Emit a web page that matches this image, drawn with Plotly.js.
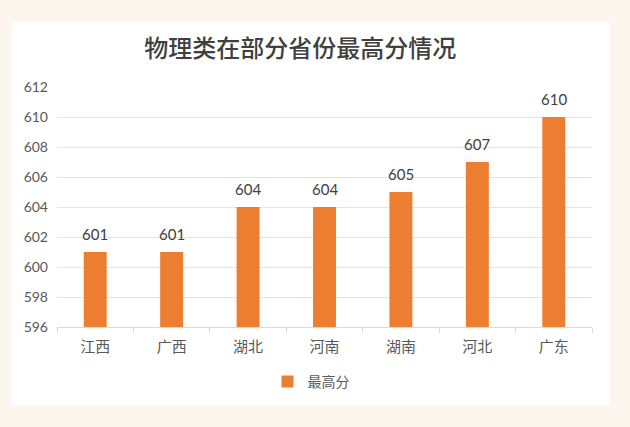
<!DOCTYPE html>
<html>
<head>
<meta charset="utf-8">
<script src="https://cdn.plot.ly/plotly-3.0.1.min.js"></script>
<style>
  html, body { margin: 0; padding: 0; background: #fcf6ef; }
  #chart { position: absolute; left: 12px; top: 22px; width: 598px; height: 383px; }
</style>
</head>
<body>
<div id="chart"></div>
<script>
const provinces = ['江西', '广西', '湖北', '河南', '湖南', '河北', '广东'];
const topScores = [601, 601, 604, 604, 605, 607, 610];
const yTicks = [596, 598, 600, 602, 604, 606, 608, 610, 612];

const barColor = '#ED7D31';
const cjk = '"Noto Sans CJK SC", "Noto Sans", sans-serif';

const trace = {
  type: 'bar',
  x: provinces,
  y: topScores,
  name: '最高分',
  marker: { color: barColor },
  hoverinfo: 'x+y',
  showlegend: true
};

// value labels sit a bit higher than plotly's own "outside" text
const labels = provinces.map((p, i) => ({
  x: p,
  y: topScores[i],
  text: String(topScores[i]),
  showarrow: false,
  yanchor: 'bottom',
  yshift: 7,
  font: { family: 'Lato, "Open Sans", sans-serif', size: 15, color: '#404040' }
}));

const layout = {
  width: 598,
  height: 383,
  paper_bgcolor: '#ffffff',
  plot_bgcolor: '#ffffff',
  margin: { l: 45, r: 18, t: 65, b: 78 },
  title: {
    text: '物理类在部分省份最高分情况',
    x: 0.482,
    xanchor: 'center',
    y: 0.93,
    yanchor: 'middle',
    font: { family: cjk, size: 24, color: '#404040', weight: 500 }
  },
  bargap: 0.7,
  xaxis: {
    type: 'category',
    automargin: false,
    showgrid: false,
    showline: true,
    linecolor: '#d9d9d9',
    linewidth: 1,
    ticks: 'outside',
    tickson: 'boundaries',
    ticklen: 5,
    tickcolor: '#d9d9d9',
    ticklabelstandoff: 6,
    tickfont: { family: cjk, size: 15, color: '#595959' },
    fixedrange: true
  },
  yaxis: {
    range: [596, 612],
    automargin: false,
    tickvals: yTicks,
    showgrid: true,
    gridcolor: '#e4e4e4',
    zeroline: false,
    showline: false,
    ticks: '',
    ticklabelstandoff: 8,
    tickfont: { family: 'Lato, "Open Sans", sans-serif', size: 14, color: '#595959' },
    fixedrange: true
  },
  showlegend: true,
  legend: {
    orientation: 'h',
    xref: 'container',
    yref: 'container',
    x: 0.5,
    xanchor: 'center',
    y: 0.06,
    yanchor: 'middle',
    font: { family: cjk, size: 14, color: '#595959' },
    itemwidth: 30
  },
  annotations: labels
};

Plotly.newPlot('chart', [trace], layout, { displayModeBar: false, staticPlot: true });
</script>
</body>
</html>
